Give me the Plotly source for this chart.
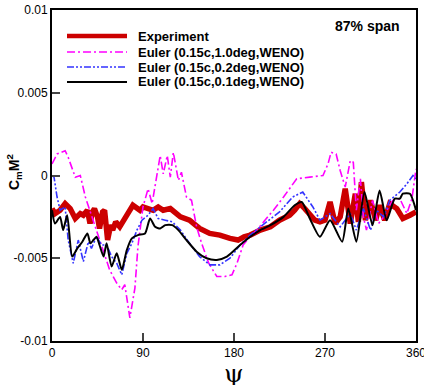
import plotly.graph_objects as go

# ---- data ----
exp_psi = [0, 3, 8, 13, 18, 23, 28, 31, 35, 37.6, 40, 42, 45, 47, 50, 52, 55, 58, 60, 63, 67, 72, 76, 80, 84, 87, 90, 94,
           100, 105, 110, 117, 122, 127, 136, 146, 156, 166, 176, 184, 190, 196, 206, 216, 225, 235, 240, 245, 250, 255,
           260, 265, 270, 275, 280, 285, 290, 295, 300, 303, 306, 310, 315, 320, 324, 329, 334, 341, 347, 354, 360]
exp_cm = [-0.0020, -0.0023, -0.0021, -0.0017, -0.0020, -0.0026, -0.0023, -0.0024, -0.0021, -0.0029, -0.0022, -0.0020,
          -0.0025, -0.0032, -0.0022, -0.0021, -0.0039, -0.0030, -0.0033, -0.0028, -0.0031, -0.0025, -0.0022, -0.0018,
          -0.0020, -0.0021, -0.0019, -0.0020, -0.0021, -0.0019, -0.0021, -0.0020, -0.0023, -0.0025, -0.0027, -0.0032,
          -0.0035, -0.0036, -0.0038, -0.0039, -0.0037, -0.0036, -0.0033, -0.0031, -0.0027, -0.0024, -0.0021, -0.0017,
          -0.0020, -0.0023, -0.0027, -0.0028, -0.0027, -0.0016, -0.0029, -0.0025, -0.0008, -0.0029, -0.0011, -0.0028,
          -0.0004, -0.0027, -0.0015, -0.0027, -0.0018, -0.0027, -0.0017, -0.0020, -0.0026, -0.0024, -0.0022]

e10_psi = [0, 5, 13, 16, 23, 28, 33, 38, 44, 51, 57, 64, 69, 72, 77, 82, 85, 90, 95, 99, 104, 107, 110, 114, 117, 120,
           125, 128, 133, 138, 143, 148, 155, 163, 171, 178, 183, 189, 196, 204, 212, 219, 229, 242, 255, 268, 273, 276,
           281, 285, 290, 295, 298, 301, 305, 308, 311, 317, 323, 328, 333, 337, 344, 351, 356, 360]
e10_cm = [0.0007, 0.0013, 0.0015, 0.0011, -0.0001, 0.0000, -0.0013, -0.0022, -0.0033, -0.0045, -0.0057, -0.0065,
          -0.0069, -0.0066, -0.0086, -0.0068, -0.0043, -0.0019, -0.0008, -0.0017, 0.0001, 0.0012, 0.0001, 0.0012,
          -0.0001, 0.0014, -0.0003, 0.0002, -0.0013, -0.0015, -0.0031, -0.0041, -0.0053, -0.0061, -0.0061, -0.0060,
          -0.0053, -0.0042, -0.0037, -0.0032, -0.0026, -0.0021, -0.0013, -0.0002, -0.0001, 0.0000, 0.0007, 0.0014,
          0.0013, 0.0003, -0.0007, 0.0009, 0.0008, -0.0021, -0.0002, -0.0025, -0.0033, -0.0015, -0.0029, -0.0025,
          -0.0019, -0.0015, -0.0014, -0.0023, -0.0014, 0.0004]

e02_psi = [0, 2, 5, 8, 13, 16, 21, 26, 31, 36, 39, 44, 49, 54, 59, 64, 69, 74, 79, 84, 89, 95, 100, 105, 112, 119, 127,
           136, 146, 156, 166, 176, 186, 196, 206, 225, 238, 248, 258, 265, 275, 285, 295, 301, 308, 315, 321, 328, 334,
           344, 351, 357, 360]
e02_cm = [0.0000, -0.0001, -0.0013, -0.0021, -0.0019, -0.0039, -0.0053, -0.0039, -0.0052, -0.0040, -0.0044, -0.0037,
          -0.0042, -0.0042, -0.0049, -0.0053, -0.0060, -0.0047, -0.0041, -0.0033, -0.0027, -0.0024, -0.0020, -0.0026,
          -0.0027, -0.0028, -0.0033, -0.0041, -0.0049, -0.0054, -0.0054, -0.0050, -0.0042, -0.0036, -0.0031, -0.0022,
          -0.0013, -0.0010, -0.0019, -0.0027, -0.0023, -0.0031, -0.0023, -0.0033, -0.0020, -0.0033, -0.0021, -0.0025,
          -0.0015, -0.0010, -0.0005, 0.0000, -0.0002]

e01_psi = [0, 3, 8, 11, 15, 20, 25, 30, 35, 38, 41, 44, 47, 51, 54, 59, 64, 69, 74, 79, 85, 92, 97, 102, 107, 112, 119,
           125, 133, 143, 153, 163, 173, 186, 196, 206, 216, 229, 240, 247, 255, 265, 275, 287, 293, 301, 309, 317, 324,
           331, 339, 344, 347, 354, 360]
e01_cm = [-0.0021, -0.0029, -0.0025, -0.0033, -0.0024, -0.0049, -0.0044, -0.0040, -0.0035, -0.0041, -0.0039, -0.0037,
          -0.0042, -0.0049, -0.0041, -0.0055, -0.0047, -0.0057, -0.0045, -0.0038, -0.0036, -0.0035, -0.0026, -0.0031,
          -0.0032, -0.0030, -0.0030, -0.0033, -0.0039, -0.0046, -0.0050, -0.0051, -0.0049, -0.0042, -0.0037, -0.0033,
          -0.0030, -0.0025, -0.0018, -0.0016, -0.0026, -0.0037, -0.0027, -0.0040, -0.0020, -0.0040, -0.0010, -0.0030,
          -0.0009, -0.0027, -0.0014, -0.0014, -0.0011, -0.0011, -0.0021]

series_names = ["Experiment", "Euler (0.15c,1.0deg,WENO)", "Euler (0.15c,0.2deg,WENO)", "Euler (0.15c,0.1deg,WENO)"]
x_ticks = [0, 90, 180, 270, 360]
y_ticks = [0.01, 0.005, 0, -0.005, -0.01]
y_tick_text = ["0.01", "0.005", "0", "-0.005", "-0.01"]

FONT = "Liberation Sans, Arial, sans-serif"
W, H = 424, 385
ML, MR, MT, MB = 52, 8, 10, 44
PW, PH = W - ML - MR, H - MT - MB

def px(x):
    return (x - ML) / PW

def py(y):
    return (H - MB - y) / PH

styles = [
    dict(color="#cc0000", width=5.5),
    dict(color="#ff00ff", width=1.6, dash="8px,3px,2px,3px"),
    dict(color="#3333ff", width=1.6, dash="7px,2px,2px,2px,2px,2px"),
    dict(color="black", width=2),
]
data = [(exp_psi, exp_cm), (e10_psi, e10_cm), (e02_psi, e02_cm), (e01_psi, e01_cm)]

fig = go.Figure()
for i, ((xs, ys), name, st) in enumerate(zip(data, series_names, styles)):
    line = dict(st)
    if i == 3:
        line.update(shape="spline", smoothing=0.6)
    fig.add_trace(go.Scatter(x=xs, y=ys, mode="lines", name=name, line=line, showlegend=False))

# manual legend (longer line samples as in the reference)
shapes = []
annotations = []
row_y = [36, 52, 67, 82]
for name, st, ry in zip(series_names, styles, row_y):
    shapes.append(dict(type="line", xref="paper", yref="paper", x0=px(67), x1=px(127), y0=py(ry), y1=py(ry),
                       line=dict(color=st["color"], width=st["width"] if st["width"] < 4 else 4.5,
                                 dash=st.get("dash", "solid"))))
    annotations.append(dict(text=f"<b>{name}</b>", xref="paper", yref="paper", x=px(136), y=py(ry),
                            xanchor="left", yanchor="middle", showarrow=False,
                            font=dict(family=FONT, size=13, color="black")))

annotations.append(dict(text="<b>87% span</b>", xref="paper", yref="paper", x=px(402), y=py(26),
                        xanchor="right", yanchor="middle", showarrow=False,
                        font=dict(family=FONT, size=14, color="black")))
annotations.append(dict(text="<b>C<sub>m</sub>M<sup>2</sup></b>", xref="paper", yref="paper", x=px(14), y=py(172),
                        xanchor="center", yanchor="middle", showarrow=False, textangle=-90,
                        font=dict(family=FONT, size=14, color="black")))
annotations.append(dict(text="ψ", xref="paper", yref="paper", x=px(234), y=py(373),
                        xanchor="center", yanchor="middle", showarrow=False,
                        font=dict(family="DejaVu Serif, serif", size=25, color="black")))

fig.update_layout(
    width=W, height=H,
    margin=dict(l=ML, r=MR, t=MT, b=MB, autoexpand=False),
    paper_bgcolor="white", plot_bgcolor="white",
    font=dict(family=FONT, size=12, color="black"),
    showlegend=False,
    xaxis=dict(range=[0, 360], tickvals=x_ticks, ticks="inside", ticklen=8, tickwidth=2, automargin=False,
               ticklabeloverflow="allow",
               showline=True, linewidth=2, linecolor="black", mirror=True,
               showgrid=False, zeroline=False),
    yaxis=dict(range=[-0.01, 0.01], tickvals=y_ticks, ticktext=y_tick_text, ticks="inside", ticklen=8,
               tickwidth=2, showline=True, linewidth=2, linecolor="black", mirror=True, automargin=False,
               ticklabeloverflow="allow",
               showgrid=False, zeroline=False),
    shapes=shapes,
    annotations=annotations,
)

fig.write_html("out.html", config={"displayModeBar": False},
               post_script="document.body.style.margin='0';document.body.style.overflow='hidden';")
